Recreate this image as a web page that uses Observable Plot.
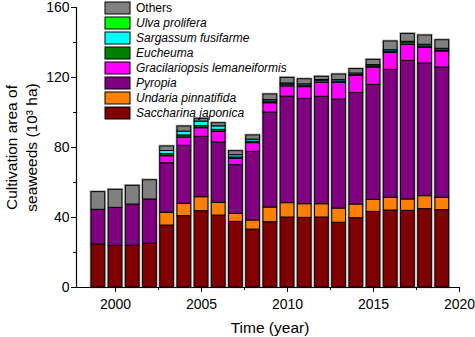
<!DOCTYPE html>
<html><head><meta charset="utf-8">
<script src="https://cdn.jsdelivr.net/npm/d3@7"></script>
<script src="https://cdn.jsdelivr.net/npm/@observablehq/plot@0.6"></script>
<style>
body{margin:0;background:#fff;}
#wrap{position:relative;width:475px;height:337px;font-family:"Liberation Sans",Arial,sans-serif;}
#legend{position:absolute;left:105px;top:0px;}
.lg-swatches{font-family:"Liberation Sans",Arial,sans-serif !important;margin:0 !important;}
.lg-swatch{height:15px;padding-bottom:0 !important;display:flex;align-items:center;}
.lg-swatch svg{margin-right:6px !important;overflow:visible;}
.lg-swatch svg rect{stroke:#000;stroke-width:1px;}
.lg-swatch-label{font-size:12px;font-style:italic;color:#000;overflow:visible !important;}
.lg-swatch:first-of-type .lg-swatch-label{font-style:normal;}
</style></head>
<body><div id="wrap"><div id="legend"></div></div>
<script>
const years = [1999,2000,2001,2002,2003,2004,2005,2006,2007,2008,2009,2010,2011,2012,2013,2014,2015,2016,2017,2018,2019];
const saccharina = [24.6,23.8,23.8,25.0,35.4,40.8,43.6,41.1,37.5,33.1,37.3,40.0,39.8,40.0,37.0,39.6,43.2,44.0,43.8,44.8,44.2];
const undaria = [0,0,0,0,7.3,7.0,8.0,7.3,4.6,5.2,8.4,8.2,7.8,7.6,8.1,7.8,6.9,7.3,6.5,7.4,7.1];
const pyropia = [19.8,21.7,23.6,25.3,28.3,33.2,34.5,34.5,27.8,39.2,54.3,60.9,60.2,61.4,62.3,63.8,65.7,73.1,79.2,75.8,74.4];
const gracilariopsis = [0,0,0,0,4.0,4.7,4.9,6.1,3.6,5.0,5.3,5.8,6.7,8.0,9.6,9.8,9.9,9.7,9.2,9.0,9.2];
const eucheuma = [0,0,0,0,1.2,1.2,1.2,1.1,0.8,0.8,1.0,1.0,0.8,1.2,0.7,0.5,0.7,0.7,1.4,0.8,0.6];
const sargassum = [0,0,0,0,1.8,2.2,2.6,2.0,1.3,1.2,0.8,0.7,0.8,0.4,0.8,0.8,0.7,0.8,0.3,0.9,0.9];
const ulva = [0,0,0,0,0,0,0,0,0,0,0,0,0,0,0,0,0,0,0,0,0];
const others = [10.1,10.3,10.7,11.0,2.6,2.9,1.6,1.8,2.3,2.4,3.2,3.2,2.9,1.8,3.2,2.5,3.0,5.0,4.5,5.3,4.9];

const seriesNames = ["Saccharina japonica","Undaria pinnatifida","Pyropia","Gracilariopsis lemaneiformis","Eucheuma","Sargassum fusifarme","Ulva prolifera","Others"];
const seriesValues = [saccharina, undaria, pyropia, gracilariopsis, eucheuma, sargassum, ulva, others];
const seriesColors = ["#800000","#ff8000","#800080","#ff00ff","#008000","#00ffff","#00ff00","#808080"];

const xMajor = [2000,2005,2010,2015,2020];
const xMinor = [2002.5,2007.5,2012.5,2017.5];
const yMajor = [0,40,80,120,160];
const yMinor = [20,60,100,140];

const data = years.flatMap((yr,i) => seriesNames.map((s,j) => ({year: yr, series: s, value: seriesValues[j][i]})));
const totals = years.map((yr,i) => ({year: yr, total: d3.sum(seriesValues, v => v[i])}));

const xLeft = 1997.73;
const half = 0.4;

const plot = Plot.plot({
  width: 475, height: 337,
  marginLeft: 76, marginRight: 16, marginTop: 7, marginBottom: 50,
  style: {fontFamily: "Liberation Sans, Arial, sans-serif", fontSize: "14px", background: "white", color: "black", overflow: "visible"},
  x: {type: "linear", domain: [xLeft, 2020]},
  y: {domain: [0, 160]},
  color: {domain: seriesNames, range: seriesColors},
  marks: [
    Plot.rectY(totals, {x1: d => d.year - half, x2: d => d.year + half, y1: 0, y2: "total", fill: "none", stroke: "#b0b0b0", strokeWidth: 2.6}),
    Plot.rectY(data, Plot.stackY({x1: d => d.year - half, x2: d => d.year + half, y: "value", fill: "series", z: "series", order: seriesNames, stroke: "#000", strokeWidth: 1})),
    Plot.ruleY([0], {stroke: "#000", strokeWidth: 1.2}),
    Plot.ruleX([xLeft], {stroke: "#000", strokeWidth: 1.2}),
    Plot.axisX({ticks: xMajor, tickSize: 5, tickPadding: 7, tickFormat: d => String(d), label: null, fontSize: 14}),
    Plot.axisX({ticks: xMinor, tickSize: 3, tickFormat: () => "", label: null}),
    Plot.axisY({ticks: yMajor, tickSize: 5, tickPadding: 2, tickFormat: d => String(d), label: null, fontSize: 14}),
    Plot.axisY({ticks: yMinor, tickSize: 3, tickFormat: () => "", label: null}),
    Plot.text(["Cultivation area of\nseaweeds (10³ ha)"], {text: d => d, frameAnchor: "left", rotate: -90, dx: -56, fontSize: 15.5, lineHeight: 1.3, lineAnchor: "middle", textAnchor: "middle"}),
    Plot.text(["Time (year)"], {text: d => d, frameAnchor: "bottom", dx: 2, dy: 41, fontSize: 15.5, lineAnchor: "middle"})
  ]
});
document.getElementById("wrap").prepend(plot);

const legendOrder = seriesNames.slice().reverse();
const legendColors = seriesColors.slice().reverse();
const legend = Plot.legend({color: {domain: legendOrder, range: legendColors}, legend: "swatches", columns: 1, swatchWidth: 25, swatchHeight: 12, className: "lg"});
document.getElementById("legend").appendChild(legend);
</script>
</body></html>
